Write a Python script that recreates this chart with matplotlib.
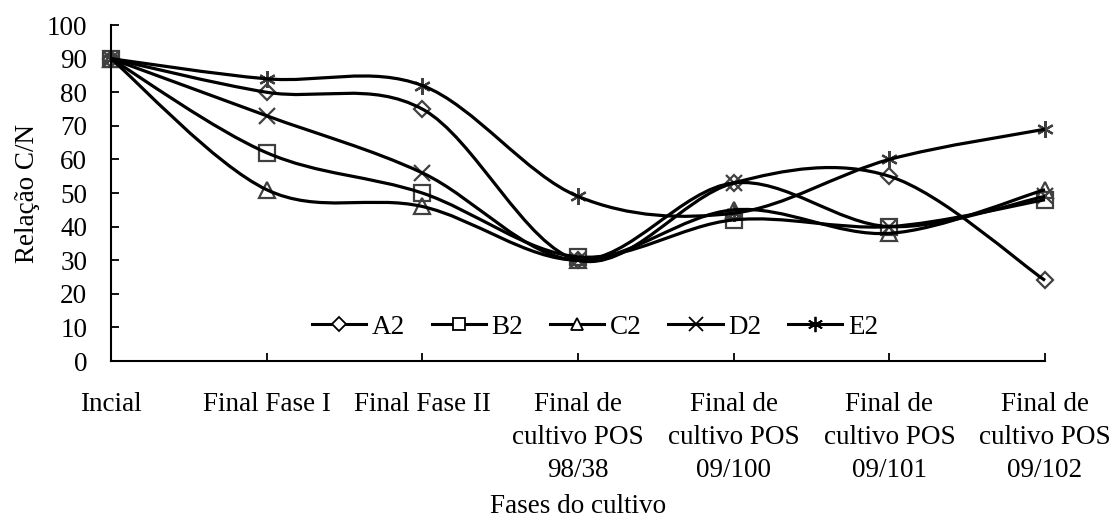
import matplotlib
matplotlib.use('Agg')
import matplotlib.pyplot as plt
from matplotlib.path import Path
from matplotlib.patches import PathPatch
from matplotlib.lines import Line2D

# data
categories = ['Incial', 'Final Fase I', 'Final Fase II',
              'Final de\ncultivo POS\n98/38', 'Final de\ncultivo POS\n09/100',
              'Final de\ncultivo POS\n09/101', 'Final de\ncultivo POS\n09/102']
a2 = [90, 80, 75, 30, 53, 55, 24]
b2 = [90, 62, 50, 31, 42, 40, 48]
c2 = [90, 51, 46, 30, 45, 38, 51]
d2 = [90, 73, 56, 30, 53, 40, 49]
e2 = [90, 84, 82, 49, 44, 60, 69]
series_names = ['A2', 'B2', 'C2', 'D2', 'E2']
y_ticks = [0, 10, 20, 30, 40, 50, 60, 70, 80, 90, 100]

plt.rcParams['font.family'] = ['Liberation Serif', 'DejaVu Serif']
FS = 19.5


def smooth_path(xs, ys):
    """Bezier path through the points, like Excel's smoothed line"""
    n = len(xs)
    verts = [(xs[0], ys[0])]
    codes = [Path.MOVETO]
    for i in range(n - 1):
        xp, yp = (xs[i - 1], ys[i - 1]) if i > 0 else (xs[i], ys[i])
        xn, yn = (xs[i + 2], ys[i + 2]) if i + 2 < n else (xs[i + 1], ys[i + 1])
        c1 = (xs[i] + (xs[i + 1] - xp) / 6, ys[i] + (ys[i + 1] - yp) / 6)
        c2 = (xs[i + 1] - (xn - xs[i]) / 6, ys[i + 1] - (yn - ys[i]) / 6)
        verts += [c1, c2, (xs[i + 1], ys[i + 1])]
        codes += [Path.CURVE4] * 3
    return Path(verts, codes)


fig = plt.figure(figsize=(11.13, 5.22), dpi=100)
ax = fig.add_axes([0.0997, 0.3084, 0.8392, 0.6436])

x = list(range(len(categories)))
markers = ['D', 's', '^', 'x', (6, 2, 0)]
sizes = [8, 11, 11, 11, 12]
leg_sizes = [7, 9, 9, 10, 11]
handles = []
for vals, m, ms, lms, name in zip([a2, b2, c2, d2, e2], markers, sizes, leg_sizes, series_names):
    ax.plot(x, vals, linestyle='none', marker=m, markersize=ms, markerfacecolor='none',
            markeredgecolor='#404040', markeredgewidth=1.6, zorder=2, clip_on=False)
    ax.add_patch(PathPatch(smooth_path(x, vals), facecolor='none', edgecolor='black',
                           lw=2.3, zorder=3, clip_on=False))
    handles.append(Line2D([], [], color='black', lw=2.2, marker=m, markersize=lms,
                          markerfacecolor='white', markeredgecolor='black',
                          markeredgewidth=1.3, label=name))

ax.set_xlim(0, 6)
ax.set_ylim(0, 100)
ax.set_yticks(y_ticks)
ax.set_xticks(x)
ax.set_xticklabels(categories, fontsize=FS, linespacing=1.42)
ax.tick_params(axis='y', labelsize=FS, direction='in', length=6, width=1.3, pad=17)
ax.tick_params(axis='x', direction='in', length=6, width=1.3, pad=22)
for side in ['top', 'right']:
    ax.spines[side].set_visible(False)
for side in ['left', 'bottom']:
    ax.spines[side].set_linewidth(1.5)

ax.set_ylabel('Relação C/N', fontsize=FS, labelpad=5)
ax.set_xlabel('Fases do cultivo', fontsize=FS, labelpad=8)

ax.legend(handles=handles, loc='center', bbox_to_anchor=(0.518, 0.10), ncol=5,
          frameon=False, fontsize=FS, handlelength=2.0, handletextpad=0.2,
          columnspacing=1.0)

fig.savefig('out.png', dpi=100)
